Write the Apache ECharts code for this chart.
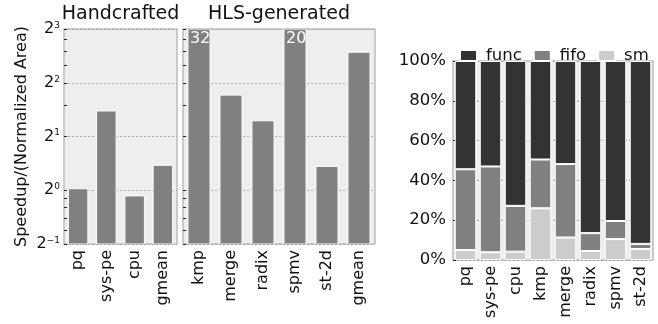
<!DOCTYPE html>
<html>
<head>
<meta charset="utf-8">
<script src="https://cdn.jsdelivr.net/npm/echarts@6/dist/echarts.min.js"></script>
<style>
  html, body { margin: 0; padding: 0; background: #ffffff; }
  #chart { width: 658px; height: 324px; }
</style>
</head>
<body>
<div id="chart"></div>
<script>
// Speedup per normalized area (log2 scale)
const handCats = ['pq', 'sys-pe', 'cpu', 'gmean'];
const handSpeedup = [1.02, 2.78, 0.93, 1.38];
const hlsCats = ['kmp', 'merge', 'radix', 'spmv', 'st-2d', 'gmean'];
const hlsSpeedup = [32, 3.41, 2.45, 20, 1.36, 5.93];
const speedupMin = 0.5;
const speedupMax = 8;
const speedupLabelValues = [0.5, 1, 2, 4, 8];
const speedupMinorTicks = [0.6, 0.7, 0.8, 0.9, 3, 5, 6, 7];

// Area breakdown per benchmark (percent)
const breakdownCats = ['pq', 'sys-pe', 'cpu', 'kmp', 'merge', 'radix', 'spmv', 'st-2d'];
const smShare = [5.0, 3.9, 4.2, 26.0, 11.3, 4.5, 10.5, 5.5];
const fifoShare = [40.6, 43.1, 23.0, 24.5, 36.9, 9.0, 9.1, 2.6];
const funcShare = [54.4, 53.0, 72.8, 49.5, 51.8, 86.5, 80.4, 91.9];
const shareTicks = [0, 20, 40, 60, 80, 100];

const FONT = 'DejaVu Sans';
const TEXT = '#111111';
const PANEL_BG = '#eeeeee';
const PANEL_BORDER = '#bdbdbd';
const GRID_LINE = { show: true, lineStyle: { color: '#aaaaaa', width: 1, type: [2, 2] } };

const chart = echarts.init(document.getElementById('chart'), null, { renderer: 'canvas' });

function powLabel(v) {
  const e = Math.round(Math.log2(v));
  const s = e < 0 ? '\u2212' + (-e) : String(e);
  return '{b|2}{s|' + s + '}';
}

const panelGrid = { show: true, backgroundColor: PANEL_BG, borderColor: PANEL_BORDER, borderWidth: 1.5, containLabel: false };

function catAxis(gridIndex, data) {
  return {
    type: 'category', gridIndex, data,
    axisLine: { show: false }, axisTick: { show: false },
    axisLabel: { rotate: 90, fontSize: 16, fontFamily: FONT, color: TEXT, margin: 6, interval: 0 }
  };
}

function logAxis(gridIndex, withLabels) {
  return {
    type: 'log', logBase: 2, min: speedupMin, max: speedupMax, splitNumber: 4, gridIndex, position: 'left',
    name: withLabels ? 'Speedup/(Normalized Area)' : '',
    nameLocation: 'middle', nameRotate: 90, nameGap: 34,
    nameTextStyle: { fontSize: 16, fontFamily: FONT, color: TEXT },
    axisLine: { show: false },
    axisTick: { show: true, inside: true, length: 3, lineStyle: { color: '#222', width: 1 } },
    axisLabel: {
      show: withLabels, margin: 4, fontFamily: FONT, color: TEXT,
      customValues: speedupLabelValues,
      formatter: powLabel,
      rich: {
        b: { fontSize: 16, lineHeight: 16, fontFamily: FONT, color: TEXT },
        s: { fontSize: 9, lineHeight: 9, fontFamily: FONT, color: TEXT, verticalAlign: 'top' }
      }
    },
    splitLine: GRID_LINE
  };
}

function minorLogAxis(gridIndex) {
  return {
    type: 'log', logBase: 2, min: speedupMin, max: speedupMax, gridIndex, position: 'left',
    axisLine: { show: false },
    axisLabel: { show: false },
    splitLine: { show: false },
    axisTick: { show: true, inside: true, length: 3, customValues: speedupMinorTicks, lineStyle: { color: '#222', width: 1 } }
  };
}

// Bars on the log axis rise from the bottom of the axis; values above the
// axis maximum are cut at the panel top and carry their value in white.
function renderSpeedupBar(params, api) {
  const idx = api.value(0);
  const val = api.value(1);
  const cs = params.coordSys;
  const top = api.coord([idx, val]);
  const base = api.coord([idx, speedupMin]);
  const w = api.size([1, 0])[0] * 0.69;
  const yTop = Math.max(top[1], cs.y);
  const x0 = top[0] - w / 2;
  const children = [{
    type: 'rect',
    shape: { x: x0, y: yTop, width: w, height: base[1] - yTop },
    style: { fill: '#808080', stroke: '#ffffff', lineWidth: 1 }
  }];
  if (val > speedupMax) {
    children.push({
      type: 'text',
      style: {
        x: x0 + 2, y: yTop + 2, text: String(val),
        fontSize: 16, fontFamily: FONT, fill: '#ffffff', align: 'left', verticalAlign: 'top'
      }
    });
  }
  return { type: 'group', children };
}

const speedupBar = (xi, yi, values) => ({
  type: 'custom', xAxisIndex: xi, yAxisIndex: yi,
  data: values.map((v, i) => [i, v]),
  encode: { x: 0, y: 1 },
  renderItem: renderSpeedupBar,
  clip: true,
  silent: true
});

const shareBar = (name, data, color) => ({
  name, type: 'bar', stack: 'share', xAxisIndex: 2, yAxisIndex: 4, data, barWidth: '86%',
  itemStyle: { color, borderColor: '#ffffff', borderWidth: 1 },
  emphasis: { disabled: true }
});

chart.setOption({
  animation: false,
  textStyle: { fontFamily: FONT },
  grid: [
    Object.assign({ left: 64, top: 29, width: 113, height: 215 }, panelGrid),
    Object.assign({ left: 183, top: 29, width: 192, height: 215 }, panelGrid),
    Object.assign({ left: 453, top: 61, width: 200, height: 199 }, panelGrid)
  ],
  graphic: [
    { type: 'text', x: 120.5, y: 14, style: { text: 'Handcrafted', fontSize: 19, fontFamily: FONT, fill: TEXT, align: 'center', verticalAlign: 'middle' } },
    { type: 'text', x: 279, y: 14, style: { text: 'HLS-generated', fontSize: 19, fontFamily: FONT, fill: TEXT, align: 'center', verticalAlign: 'middle' } }
  ],
  legend: {
    data: ['func', 'fifo', 'sm'],
    left: 459, top: 47, padding: 0,
    itemWidth: 17, itemHeight: 11, itemGap: 11,
    icon: 'rect',
    textStyle: { fontSize: 16.5, fontFamily: FONT, color: TEXT, padding: [0, 0, 0, 4] },
    selectedMode: false
  },
  xAxis: [
    catAxis(0, handCats),
    catAxis(1, hlsCats),
    catAxis(2, breakdownCats)
  ],
  yAxis: [
    logAxis(0, true),
    minorLogAxis(0),
    logAxis(1, false),
    minorLogAxis(1),
    {
      type: 'value', gridIndex: 2, min: 0, max: 100, interval: 20,
      axisLine: { show: false },
      axisTick: { show: true, inside: true, length: 3, lineStyle: { color: '#222', width: 1 } },
      axisLabel: { fontSize: 16.5, fontFamily: FONT, color: TEXT, margin: 7, formatter: v => (shareTicks.indexOf(v) >= 0 ? v + '%' : '') },
      splitLine: GRID_LINE
    }
  ],
  series: [
    speedupBar(0, 0, handSpeedup),
    speedupBar(1, 2, hlsSpeedup),
    shareBar('sm', smShare, '#cccccc'),
    shareBar('fifo', fifoShare, '#808080'),
    shareBar('func', funcShare, '#333333')
  ]
});
</script>
</body>
</html>
